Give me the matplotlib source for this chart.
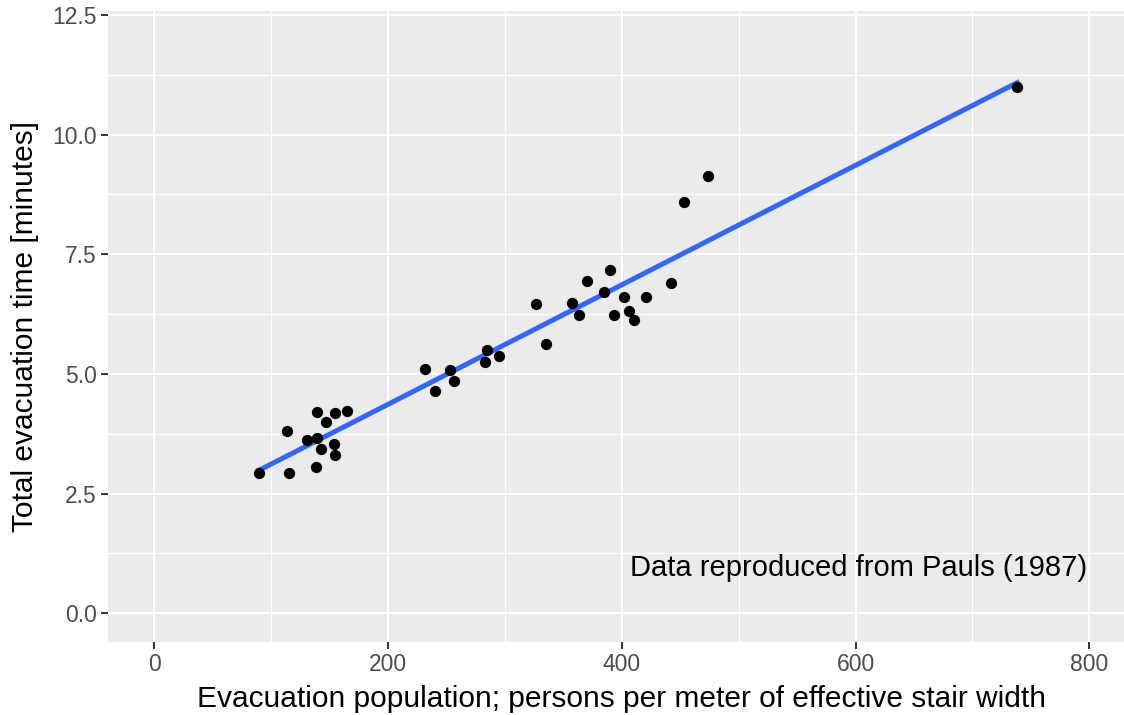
import numpy as np
import matplotlib.pyplot as plt
from matplotlib.ticker import MultipleLocator, FormatStrFormatter

plt.rcParams['font.family'] = ['Liberation Sans', 'DejaVu Sans']

# Pauls (1987) 데이터 - 그림에서 읽은 값
population = [89.8, 115.5, 113.5, 130.4, 139.0, 139.5, 138.4, 142.4, 146.9, 154.6,
              154.0, 154.6, 164.9, 231.6, 240.4, 253.3, 256.7, 284.7, 283.2, 294.9,
              326.3, 335.1, 357.6, 363.6, 370.5, 389.9, 384.8, 393.6, 401.9, 406.2,
              410.2, 421.0, 442.3, 453.2, 473.8, 738.4]
evac_time = [2.93, 2.93, 3.81, 3.61, 4.20, 3.67, 3.06, 3.43, 4.00, 4.18,
             3.54, 3.30, 4.23, 5.11, 4.64, 5.09, 4.85, 5.50, 5.24, 5.37,
             6.46, 5.63, 6.48, 6.23, 6.94, 7.16, 6.72, 6.23, 6.60, 6.32,
             6.13, 6.60, 6.89, 8.59, 9.14, 10.99]

x = np.array(population)
y = np.array(evac_time)

# 선형 회귀 (geom_smooth method="lm")
slope, intercept = np.polyfit(x, y, 1)
xs = np.array([x.min(), x.max()])

fig = plt.figure(figsize=(11.24, 7.15), dpi=100)
ax = fig.add_axes([0.0958, 0.1017, 0.9149, 0.8829])
ax.set_facecolor('#EBEBEB')

ax.set_xlim(-40, 840)
ax.set_ylim(-0.606, 12.58)

ax.xaxis.set_major_locator(MultipleLocator(200))
ax.xaxis.set_minor_locator(MultipleLocator(100))
ax.yaxis.set_major_locator(MultipleLocator(2.5))
ax.yaxis.set_minor_locator(MultipleLocator(1.25))
ax.yaxis.set_major_formatter(FormatStrFormatter('%.1f'))

ax.grid(which='major', color='white', linewidth=1.5)
ax.grid(which='minor', color='white', linewidth=0.75)
ax.set_axisbelow(True)
for s in ax.spines.values():
    s.set_visible(False)

ax.tick_params(which='major', length=5, width=1.4, color='#333333',
               labelcolor='#4D4D4D', labelsize=16.5, pad=3)
ax.tick_params(which='minor', length=0)

ax.plot(xs, intercept + slope * xs, color='#3366FF', linewidth=3.6, zorder=3)
ax.scatter(x, y, s=66, color='black', zorder=4, linewidths=0)

ax.text(798, 0.95, 'Data reproduced from Pauls (1987)', ha='right', va='center',
        fontsize=21, color='black')

ax.set_xlabel('Evacuation population; persons per meter of effective stair width',
              fontsize=21.5, labelpad=6)
ax.set_ylabel('Total evacuation time [minutes]', fontsize=21.5, labelpad=9)

plt.savefig('out.png', dpi=100)
